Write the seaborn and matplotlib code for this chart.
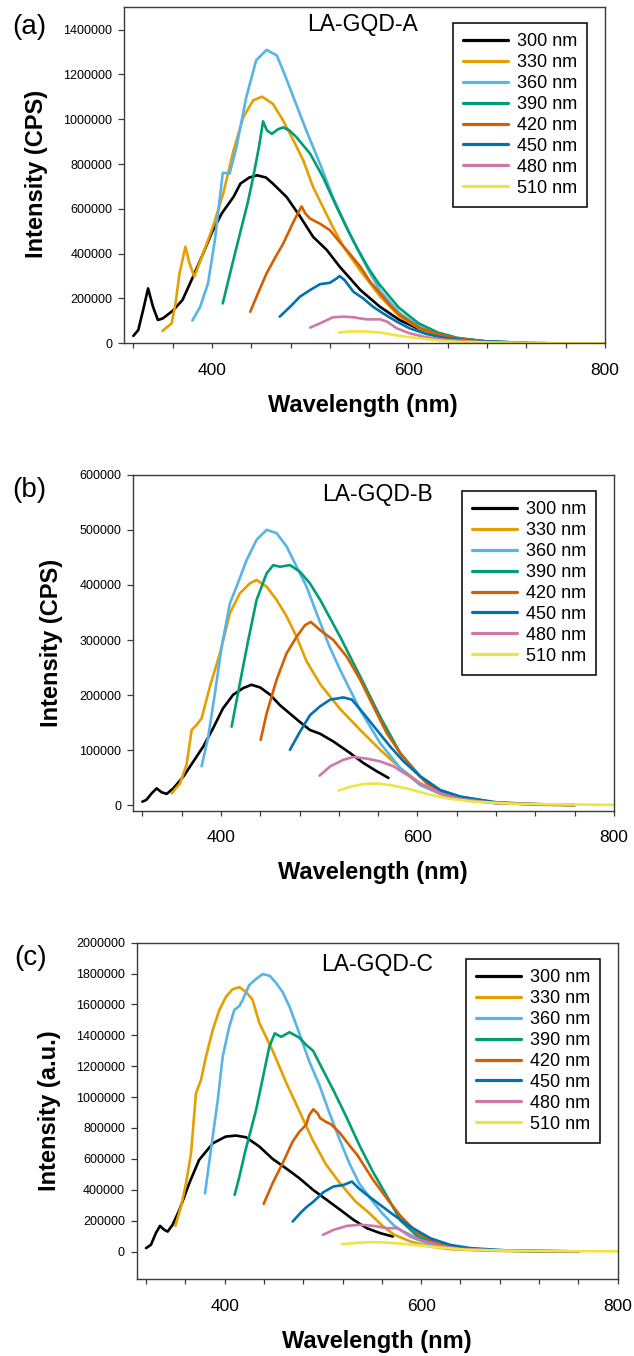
import numpy as np
import pandas as pd
import matplotlib
matplotlib.use("Agg")
import matplotlib.pyplot as plt
import matplotlib.ticker as mticker
import seaborn as sns

# ---------------- data ----------------
exc_labels = ["300 nm", "330 nm", "360 nm", "390 nm", "420 nm", "450 nm", "480 nm", "510 nm"]
line_colors = ["#000000", "#E69F00", "#56B4E9", "#009E73", "#D55E00", "#0072B2", "#CC79A7", "#F0E442"]
panel_titles = ["LA-GQD-A", "LA-GQD-B", "LA-GQD-C"]
panel_tags = ["(a)", "(b)", "(c)"]
y_labels = ["Intensity (CPS)", "Intensity (CPS)", "Intensity (a.u.)"]
x_label = "Wavelength (nm)"

# Panel A
a300_wl = [320, 325, 330, 335, 340, 345, 350, 360, 370, 380, 390, 400, 410, 422, 429, 438, 446, 455, 462, 476,
           490, 503, 517, 530, 551, 571, 591, 610, 630, 650, 680, 720]
a300_int = [33000, 59000, 149000, 245000, 163000, 104000, 111000, 145000, 193000, 290000, 390000, 495000, 580000,
            654000, 713000, 740000, 750000, 740000, 713000, 653000, 564000, 475000, 416000, 342000, 238000, 163000,
            104000, 65000, 38000, 22000, 8000, 2000]
a330_wl = [349.5, 359, 363, 367, 373, 377, 382, 391, 401, 411.5, 422, 432, 442, 451, 462, 472.5, 483, 493, 503, 513,
           523, 534, 550, 571, 591, 612, 632, 652, 680, 720]
a330_int = [55000, 89000, 180000, 312000, 431000, 360000, 297000, 401000, 520000, 669000, 862000, 1010000, 1085000,
            1101000, 1069000, 994000, 905000, 816000, 697000, 608000, 519000, 430000, 330000, 210000, 120000, 64000,
            35000, 17000, 6000, 1500]
a360_wl = [380, 388, 396, 403, 411, 418, 425, 435, 445, 455.6, 466, 472.5, 483, 496, 510, 523, 537, 547, 560, 571,
           591, 612, 632, 652, 680, 720]
a360_int = [101000, 163000, 267000, 461000, 761000, 758000, 877000, 1100000, 1263000, 1310000, 1285000, 1217000,
            1098000, 950000, 801000, 653000, 519000, 430000, 320000, 235000, 135000, 72000, 37000, 18000, 6000, 1500]
a390_wl = [411, 420, 428.5, 436, 442, 448, 452, 456, 461, 467, 472.5, 479, 486, 500, 513, 527, 540, 549, 560, 570,
           590, 610, 630, 650, 680, 720]
a390_int = [178000, 340000, 490000, 620000, 742000, 880000, 991000, 950000, 935000, 955000, 964000, 950000, 920000,
            846000, 742000, 608000, 490000, 415000, 330000, 265000, 160000, 90000, 48000, 24000, 8000, 2000]
a420_wl = [439, 447, 455.6, 464, 472.5, 482.7, 488, 491.2, 495, 499.7, 509.9, 520, 530, 540, 551, 561, 571, 581, 591,
           612, 632, 652, 680, 720]
a420_int = [141000, 225000, 312000, 380000, 445000, 540000, 585000, 611000, 580000, 557000, 534000, 505000, 452000,
            401000, 342000, 275000, 223000, 171000, 126000, 67000, 38000, 20000, 6000, 1500]
a450_wl = [469, 480, 489.5, 500, 510, 520, 527, 530, 535, 544, 554, 564, 574, 588, 601, 618, 635, 660, 700, 730]
a450_int = [119000, 165000, 208000, 238000, 264000, 270000, 290000, 300000, 282000, 230000, 200000, 163000, 134000,
            97000, 67000, 42000, 25000, 12000, 4000, 1000]
a480_wl = [500, 510, 523, 534, 544, 557, 571, 578, 588, 601, 618, 639, 680, 740]
a480_int = [70000, 89000, 116000, 119000, 116000, 107000, 107000, 97000, 67000, 45000, 27000, 15000, 5000, 1500]
a510_wl = [529.5, 540, 557, 571, 591, 612, 632, 652, 700, 750, 800]
a510_int = [48000, 53000, 53000, 48000, 33000, 22000, 12000, 6000, 2000, 800, 300]

# Panel B
b300_wl = [320, 324, 329.5, 334.6, 339.6, 344.7, 351.5, 362, 372, 382, 392, 402, 412.5, 422.7, 431, 440, 450, 460,
           470, 480, 490.5, 501, 514.5, 531.5, 545, 558.6, 570.5]
b300_int = [7000, 10000, 22000, 31000, 24000, 21000, 31000, 53000, 80000, 107000, 140000, 176000, 201000, 213000,
            219000, 214000, 201000, 182000, 167000, 152000, 137000, 130000, 116000, 95000, 77000, 62000, 50000]
b330_wl = [349.8, 358.3, 365, 370.2, 375.2, 380.3, 388.8, 399, 409.2, 419.3, 429.5, 436.3, 446.5, 456.6, 466.8, 477,
           487, 501, 521.3, 541.7, 562, 582.4, 602.7, 623, 643.4, 680, 740]
b330_int = [22000, 40000, 74000, 137000, 146000, 158000, 216000, 276000, 349000, 385000, 403000, 409000, 397000,
            373000, 343000, 306000, 262000, 220000, 175000, 137000, 101000, 68000, 40000, 22000, 13000, 5000, 1500]
b360_wl = [380.3, 387.1, 393.9, 400.7, 409.2, 415.9, 426.1, 436.3, 446.5, 456.6, 466.8, 477, 487.1, 497.3, 510,
           521.3, 541.7, 562, 582.4, 602.7, 623, 643.4, 680, 760]
b360_int = [71000, 125000, 204000, 288000, 367000, 397000, 445000, 482000, 500000, 494000, 470000, 433000, 397000,
            349000, 290000, 246000, 173000, 113000, 68000, 37000, 21000, 11000, 4000, 1000]
b390_wl = [410.9, 419.3, 427.8, 436.3, 446.5, 453.2, 460, 470.2, 480.4, 490.5, 501, 521.3, 541.7, 562, 582.4, 602.7,
           623, 643.4, 680, 720, 760]
b390_int = [143000, 222000, 300000, 373000, 421000, 436000, 433000, 436000, 424000, 403000, 373000, 306000, 234000,
            161000, 95000, 53000, 28000, 16000, 6000, 2000, 800]
b420_wl = [440.4, 446.5, 456.6, 466.8, 477, 485.5, 491.5, 501, 514.5, 528, 541.7, 555.3, 568.8, 582.4, 596, 609.5,
           626.4, 643.4, 680, 720, 760]
b420_int = [119000, 167000, 228000, 276000, 306000, 327000, 333000, 318000, 300000, 270000, 228000, 179000, 131000,
            95000, 65000, 40000, 24000, 14000, 5000, 1500, 500]
b450_wl = [470.2, 480.5, 490.7, 501, 511.2, 524.7, 533.2, 545.1, 558.6, 572.2, 585.8, 602.7, 623, 643.4, 680, 740]
b450_int = [101000, 134000, 164000, 180000, 192000, 196000, 192000, 167000, 137000, 107000, 80000, 53000, 28000,
            16000, 5000, 1200]
b480_wl = [500.3, 511.2, 524.7, 534.9, 548.5, 562, 575.6, 589.1, 602.7, 623, 643.4, 680, 760]
b480_int = [54000, 71000, 83000, 88000, 85000, 80000, 71000, 56000, 40000, 22000, 12000, 4000, 800]
b510_wl = [519.6, 531.5, 545.1, 558.6, 572.2, 589.1, 609.5, 629.8, 657, 700, 800]
b510_int = [27000, 34000, 39000, 40000, 37000, 31000, 21000, 13000, 7000, 3000, 1000]

# Panel C
c300_wl = [320, 325, 330, 334.2, 338.6, 342, 347, 354, 364, 374, 388, 401, 411.5, 421.7, 435.3, 448.8, 462.4, 476,
           490, 504, 517.6, 531.2, 544.7, 558.3, 571.2]
c300_int = [22000, 43000, 119000, 166000, 140000, 129000, 173000, 270000, 442000, 593000, 701000, 744000, 751000,
            740000, 680000, 600000, 539000, 475000, 399000, 334000, 270000, 205000, 151000, 119000, 97000]
c330_wl = [349.8, 355.6, 360.7, 365.8, 370.8, 375.9, 381, 387.8, 394.6, 401.4, 408, 415, 421.7, 428.5, 435.3, 448.9,
           462.5, 476, 489.5, 503, 517, 533, 547, 560, 572, 589, 609, 630, 660, 700, 740]
c330_int = [166000, 291000, 442000, 636000, 1025000, 1111000, 1262000, 1434000, 1564000, 1650000, 1698000, 1712000,
            1682000, 1629000, 1480000, 1300000, 1095000, 910000, 723000, 565000, 445000, 325000, 250000, 170000,
            110000, 65000, 32000, 15000, 6000, 2000, 500]
c360_wl = [380, 386, 393, 398, 404.7, 409.8, 415, 418.3, 425, 432, 438.7, 446, 452.3, 459, 466, 476, 486.2, 496.3,
           506.5, 516.7, 527, 537, 550, 560, 572, 589, 609, 630, 660, 700, 760]
c360_int = [377000, 658000, 981000, 1262000, 1456000, 1564000, 1590000, 1629000, 1726000, 1765000, 1797000, 1785000,
            1740000, 1680000, 1586000, 1413000, 1230000, 1080000, 900000, 730000, 570000, 440000, 330000, 250000,
            170000, 95000, 46000, 21000, 8000, 3000, 800]
c390_wl = [410.2, 415, 421, 432, 445.5, 451, 457.4, 466, 476, 483, 490, 500, 511, 524, 537, 551, 565, 579, 596, 616,
           636, 670, 720, 760]
c390_int = [367000, 485000, 650000, 917000, 1327000, 1413000, 1390000, 1420000, 1385000, 1338000, 1300000, 1176000,
            1040000, 870000, 690000, 515000, 360000, 200000, 100000, 45000, 22000, 8000, 2000, 500]
c420_wl = [439.7, 448.8, 459, 469.2, 476, 482.8, 486.1, 490.2, 494.6, 497.3, 503, 508, 517, 528, 535, 551, 566, 579,
           596, 616, 636, 670, 720, 760]
c420_int = [308000, 442000, 572000, 712000, 775000, 820000, 884000, 921000, 895000, 863000, 840000, 825000, 770000,
            679000, 625000, 465000, 335000, 230000, 119000, 54000, 26000, 9000, 3000, 800]
c450_wl = [469.2, 476.9, 482.8, 490.5, 500.7, 510.8, 521, 529.5, 536.3, 544.7, 558.3, 571.9, 588.8, 609.2, 629.5,
           649.8, 690, 740, 760]
c450_int = [194000, 248000, 285000, 324000, 385000, 421000, 431000, 453000, 410000, 367000, 302000, 237000, 162000,
            86000, 43000, 22000, 6000, 2000, 800]
c480_wl = [500, 510.8, 524.4, 537.9, 551.5, 565.1, 575.2, 585.4, 599, 619.3, 639.7, 680, 740, 760]
c480_int = [108000, 140000, 166000, 173000, 166000, 151000, 151000, 119000, 75000, 37000, 17000, 6000, 2000, 800]
c510_wl = [519.3, 531.2, 544.7, 558.3, 575.2, 595.6, 619.3, 646.5, 700, 800]
c510_int = [47000, 54000, 60000, 60000, 54000, 41000, 26000, 11000, 4000, 1000]

panel_series = [
    [(a300_wl, a300_int), (a330_wl, a330_int), (a360_wl, a360_int), (a390_wl, a390_int),
     (a420_wl, a420_int), (a450_wl, a450_int), (a480_wl, a480_int), (a510_wl, a510_int)],
    [(b300_wl, b300_int), (b330_wl, b330_int), (b360_wl, b360_int), (b390_wl, b390_int),
     (b420_wl, b420_int), (b450_wl, b450_int), (b480_wl, b480_int), (b510_wl, b510_int)],
    [(c300_wl, c300_int), (c330_wl, c330_int), (c360_wl, c360_int), (c390_wl, c390_int),
     (c420_wl, c420_int), (c450_wl, c450_int), (c480_wl, c480_int), (c510_wl, c510_int)],
]
y_limits = [(0, 1500000), (-10000, 600000), (-180000, 2000000)]
y_tick_values = [np.arange(0, 1400001, 200000), np.arange(0, 600001, 100000), np.arange(0, 2000001, 200000)]

# ---------------- style ----------------
sns.set_style("ticks")
plt.rcParams["font.family"] = ["Liberation Sans", "DejaVu Sans"]
plt.rcParams["text.color"] = "black"
plt.rcParams["axes.labelcolor"] = "black"
plt.rcParams["xtick.labelcolor"] = "black"
plt.rcParams["ytick.labelcolor"] = "black"

W, H = 634, 1356
fig = plt.figure(figsize=(W / 100, H / 100), dpi=100)

# axes boxes in pixels: left, top, right, bottom
boxes = [(124, 7.3, 605, 343.3), (133, 474.7, 614, 811), (136.7, 942.7, 617.7, 1279.3)]
legend_anchor = [(453, 23), (462, 491), (466, 959)]
title_pos = [(307, 24), (321.7, 495), (320.7, 964)]
tag_pos = [(12, 27.5), (12, 490), (14, 958)]
ylabel_coords = [(-0.1815, 0.503), (-0.169, 0.501), (-0.182, 0.5)]
xlabel_coords = [(0.497, -0.184), (0.498, -0.184), (0.499, -0.185)]

spine_col = "#3a3a3a"

for i in range(3):
    l, t, r, b = boxes[i]
    ax = fig.add_axes([l / W, 1 - b / H, (r - l) / W, (b - t) / H])

    rows = []
    for lab, (wl, val) in zip(exc_labels, panel_series[i]):
        rows.append(pd.DataFrame({"Wavelength": wl, "Intensity": val, "Excitation": lab}))
    df = pd.concat(rows, ignore_index=True)

    sns.lineplot(data=df, x="Wavelength", y="Intensity", hue="Excitation",
                 hue_order=exc_labels, palette=line_colors, estimator=None,
                 sort=False, linewidth=1.9, ax=ax)

    ax.set_xlim(310.5, 800)
    ax.set_ylim(*y_limits[i])
    ax.set_yticks(y_tick_values[i])
    ax.yaxis.set_major_formatter(mticker.StrMethodFormatter("{x:.0f}"))
    ax.set_xticks([400, 600, 800])
    ax.xaxis.set_minor_locator(mticker.FixedLocator([320, 360, 440, 480, 520, 560, 640, 680, 720, 760]))

    for sp in ax.spines.values():
        sp.set_visible(True)
        sp.set_color(spine_col)
        sp.set_linewidth(1.0)

    ax.tick_params(axis="y", which="major", direction="out", length=4, width=0.9,
                   color=spine_col, labelsize=9, pad=4.5, right=False, labelcolor="black")
    ax.tick_params(axis="x", which="major", direction="out", length=3.5, width=0.9,
                   color=spine_col, labelsize=12.5, pad=10.5, top=False, labelcolor="black")
    ax.tick_params(axis="x", which="minor", direction="out", length=3.5, width=0.9,
                   color=spine_col, top=False)

    ax.set_xlabel(x_label, fontsize=17, fontweight="bold", color="black")
    ax.set_ylabel(y_labels[i], fontsize=17, fontweight="bold", color="black")
    ax.xaxis.label.set_va("center")
    ax.yaxis.label.set_va("center")
    ax.xaxis.set_label_coords(*xlabel_coords[i])
    ax.yaxis.set_label_coords(*ylabel_coords[i])

    handles, labels = ax.get_legend_handles_labels()
    lx, ly = legend_anchor[i]
    leg = ax.legend(handles, labels, loc="upper left", bbox_to_anchor=(lx / W, 1 - ly / H),
                    bbox_transform=fig.transFigure, fontsize=13, frameon=True, fancybox=False,
                    framealpha=1, edgecolor="black", borderpad=0.55, handlelength=2.5,
                    handletextpad=0.5, labelspacing=0.22, borderaxespad=0)
    leg.get_frame().set_linewidth(1.1)
    for txt in leg.get_texts():
        txt.set_color("black")
    for h in leg.get_lines():
        h.set_linewidth(2.3)

    tx, ty = title_pos[i]
    fig.text(tx / W, 1 - ty / H, panel_titles[i], fontsize=16.5, ha="left", va="center", color="black")
    gx, gy = tag_pos[i]
    fig.text(gx / W, 1 - gy / H, panel_tags[i], fontsize=20, ha="left", va="center", color="black")

fig.savefig("out.png", dpi=100)
